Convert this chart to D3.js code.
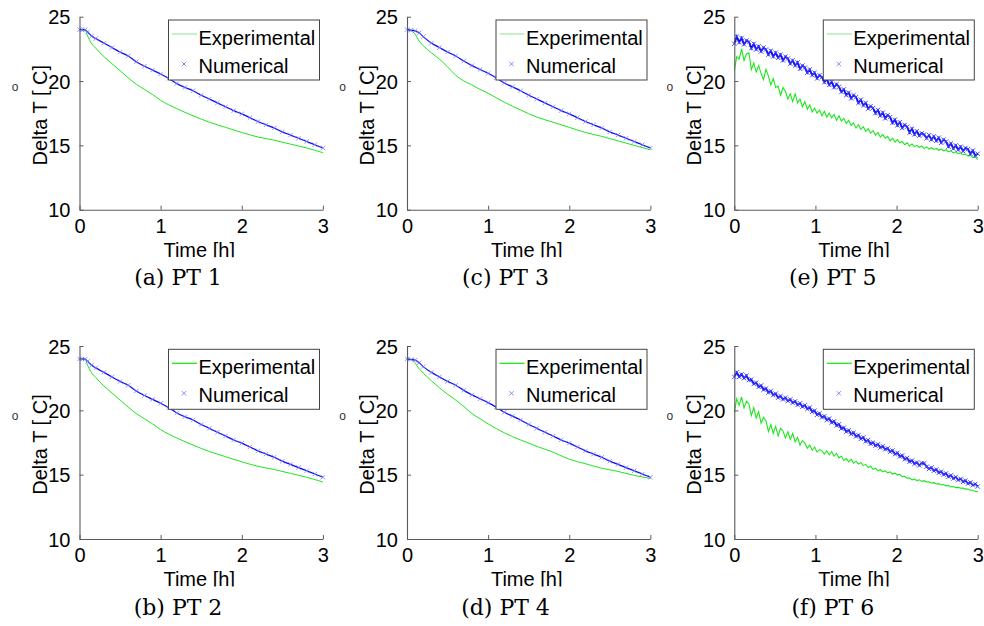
<!DOCTYPE html>
<html>
<head>
<meta charset="utf-8">
<script src="https://cdn.jsdelivr.net/npm/d3@7/dist/d3.min.js"></script>
<style>
  html, body { margin: 0; padding: 0; background: #fff; }
  svg { display: block; }
</style>
</head>
<body>
<svg id="chart" width="984" height="626"></svg>
<script>
// ---- Axis ticks and labels ----
const xTicks = [0, 1, 2, 3];
const yTicks = [10, 15, 20, 25];
const xLabel = "Time [h]";
const yLabel = "Delta T [ C]";
const degreeMark = "o";
const legendLabels = ["Experimental", "Numerical"];
const captions = ["(a) PT 1", "(b) PT 2", "(c) PT 3", "(d) PT 4", "(e) PT 5", "(f) PT 6"];

// ---- PT 1 ----
const tExp1 = [0, 0.07, 0.1, 0.14, 0.2, 0.3, 0.4, 0.5, 0.6, 0.7, 0.8, 0.9, 1.0, 1.2, 1.4, 1.6, 1.8, 2.0, 2.2, 2.4, 2.6, 2.8, 3.0];
const exp1  = [24.0, 23.95, 23.5, 23.0, 22.55, 21.9, 21.35, 20.8, 20.25, 19.75, 19.35, 18.95, 18.5, 17.85, 17.3, 16.8, 16.4, 16.0, 15.65, 15.4, 15.1, 14.8, 14.43];
const tNum1 = [0, 0.03, 0.07, 0.1, 0.15, 0.2, 0.3, 0.4, 0.5, 0.6, 0.7, 0.8, 0.9, 1.0, 1.1, 1.2, 1.3, 1.4, 1.5, 1.6, 1.7, 1.8, 1.9, 2.0, 2.1, 2.2, 2.3, 2.4, 2.5, 2.6, 2.7, 2.8, 2.9, 3.0];
const num1  = [24.0, 24.0, 23.98, 23.8, 23.5, 23.3, 22.95, 22.6, 22.25, 21.95, 21.5, 21.15, 20.85, 20.55, 20.2, 19.8, 19.5, 19.25, 18.9, 18.6, 18.3, 18.0, 17.7, 17.45, 17.15, 16.85, 16.6, 16.35, 16.05, 15.8, 15.55, 15.3, 15.05, 14.8];

// ---- PT 2 ----
const tExp2 = [0, 0.07, 0.1, 0.14, 0.2, 0.3, 0.4, 0.5, 0.6, 0.7, 0.8, 0.9, 1.0, 1.2, 1.4, 1.6, 1.8, 2.0, 2.2, 2.4, 2.6, 2.8, 3.0];
const exp2  = [24.0, 23.95, 23.5, 23.0, 22.55, 21.9, 21.35, 20.8, 20.25, 19.75, 19.35, 18.95, 18.5, 17.85, 17.3, 16.8, 16.4, 16.0, 15.65, 15.4, 15.1, 14.8, 14.43];
const tNum2 = [0, 0.03, 0.07, 0.1, 0.15, 0.2, 0.3, 0.4, 0.5, 0.6, 0.7, 0.8, 0.9, 1.0, 1.1, 1.2, 1.3, 1.4, 1.5, 1.6, 1.7, 1.8, 1.9, 2.0, 2.1, 2.2, 2.3, 2.4, 2.5, 2.6, 2.7, 2.8, 2.9, 3.0];
const num2  = [24.0, 24.0, 23.98, 23.8, 23.5, 23.3, 22.95, 22.6, 22.25, 21.95, 21.5, 21.15, 20.85, 20.55, 20.2, 19.8, 19.5, 19.25, 18.9, 18.6, 18.3, 18.0, 17.7, 17.45, 17.15, 16.85, 16.6, 16.35, 16.05, 15.8, 15.55, 15.3, 15.05, 14.8];

// ---- PT 3 ----
const tExp3 = [0, 0.05, 0.1, 0.15, 0.2, 0.3, 0.4, 0.5, 0.6, 0.7, 0.8, 0.9, 1.0, 1.2, 1.4, 1.6, 1.8, 2.0, 2.2, 2.4, 2.6, 2.8, 3.0];
const exp3  = [23.94, 23.9, 23.65, 23.1, 22.75, 22.2, 21.7, 21.1, 20.45, 20.0, 19.7, 19.35, 19.05, 18.35, 17.75, 17.2, 16.8, 16.4, 16.0, 15.7, 15.35, 15.0, 14.66];
const tNum3 = [0, 0.05, 0.1, 0.15, 0.2, 0.3, 0.4, 0.5, 0.6, 0.7, 0.8, 0.9, 1.0, 1.1, 1.2, 1.3, 1.4, 1.5, 1.6, 1.7, 1.8, 1.9, 2.0, 2.1, 2.2, 2.3, 2.4, 2.5, 2.6, 2.7, 2.8, 2.9, 3.0];
const num3  = [24.0, 23.95, 23.9, 23.75, 23.45, 22.95, 22.6, 22.25, 21.95, 21.55, 21.2, 20.9, 20.6, 20.25, 19.85, 19.55, 19.25, 18.9, 18.6, 18.3, 18.0, 17.7, 17.45, 17.15, 16.85, 16.6, 16.35, 16.05, 15.8, 15.55, 15.3, 15.05, 14.8];

// ---- PT 4 ----
const tExp4 = [0, 0.07, 0.14, 0.2, 0.3, 0.4, 0.5, 0.6, 0.7, 0.8, 0.9, 1.0, 1.2, 1.4, 1.6, 1.8, 2.0, 2.2, 2.4, 2.6, 2.8, 3.0];
const exp4  = [24.0, 23.9, 23.3, 22.9, 22.3, 21.75, 21.25, 20.8, 20.3, 19.75, 19.35, 18.95, 18.25, 17.7, 17.2, 16.75, 16.2, 15.85, 15.5, 15.25, 14.95, 14.7];
const tNum4 = [0, 0.05, 0.1, 0.15, 0.2, 0.3, 0.4, 0.5, 0.6, 0.7, 0.8, 0.9, 1.0, 1.1, 1.2, 1.3, 1.4, 1.5, 1.6, 1.7, 1.8, 1.9, 2.0, 2.1, 2.2, 2.3, 2.4, 2.5, 2.6, 2.7, 2.8, 2.9, 3.0];
const num4  = [24.0, 23.95, 23.9, 23.7, 23.4, 22.95, 22.6, 22.25, 21.95, 21.55, 21.2, 20.9, 20.6, 20.25, 19.85, 19.55, 19.25, 18.9, 18.6, 18.3, 18.0, 17.7, 17.45, 17.15, 16.85, 16.6, 16.35, 16.05, 15.8, 15.55, 15.3, 15.05, 14.8];

// ---- PT 5 and PT 6: logged every 0.03 h ----
const tNoisy = [0, 0.03, 0.06, 0.09, 0.12, 0.15, 0.18, 0.21, 0.24, 0.27, 0.3, 0.33, 0.36, 0.39, 0.42, 0.45, 0.48, 0.51, 0.54, 0.57,
  0.6, 0.63, 0.66, 0.69, 0.72, 0.75, 0.78, 0.81, 0.84, 0.87, 0.9, 0.93, 0.96, 0.99, 1.02, 1.05, 1.08, 1.11, 1.14, 1.17,
  1.2, 1.23, 1.26, 1.29, 1.32, 1.35, 1.38, 1.41, 1.44, 1.47, 1.5, 1.53, 1.56, 1.59, 1.62, 1.65, 1.68, 1.71, 1.74, 1.77,
  1.8, 1.83, 1.86, 1.89, 1.92, 1.95, 1.98, 2.01, 2.04, 2.07, 2.1, 2.13, 2.16, 2.19, 2.22, 2.25, 2.28, 2.31, 2.34, 2.37,
  2.4, 2.43, 2.46, 2.49, 2.52, 2.55, 2.58, 2.61, 2.64, 2.67, 2.7, 2.73, 2.76, 2.79, 2.82, 2.85, 2.88, 2.91, 2.94, 2.97, 3.0];

const exp5 = [20.8, 21.9, 21.7, 22.5, 21.6, 22.1, 22.2, 20.9, 21.4, 20.7, 21.2, 20.6, 20.1, 20.9, 20.4, 19.7, 20.2, 19.5, 19.6, 18.9,
  19.5, 19.2, 18.6, 19.0, 18.4, 19.0, 18.3, 18.6, 18.0, 18.4, 17.8, 18.15, 17.6, 17.9, 17.5, 17.75, 17.3, 17.65, 17.2, 17.5,
  17.15, 17.4, 16.95, 17.3, 16.9, 17.1, 16.7, 16.95, 16.55, 16.75, 16.35, 16.6, 16.25, 16.45, 16.1, 16.3, 15.95, 16.15, 15.8, 16.0,
  15.65, 15.85, 15.55, 15.7, 15.35, 15.55, 15.25, 15.45, 15.2, 15.3, 15.05, 15.2, 14.95, 15.1, 14.9, 15.0, 14.85, 14.95, 14.75, 14.88,
  14.72, 14.82, 14.68, 14.76, 14.62, 14.7, 14.58, 14.66, 14.5, 14.58, 14.42, 14.5, 14.36, 14.42, 14.28, 14.33, 14.17, 14.22, 14.05, 14.1, 13.9];
const num5 = [22.9, 23.45, 23.0, 23.35, 22.85, 23.15, 23.05, 22.55, 22.9, 22.45, 22.7, 22.3, 22.6, 22.45, 22.05, 22.35, 21.9, 22.2, 21.8, 22.05,
  21.6, 21.9, 21.75, 21.35, 21.6, 21.2, 21.45, 20.95, 21.2, 21.05, 20.65, 20.9, 20.45, 20.65, 20.2, 20.45, 20.3, 19.9, 20.15, 19.7,
  19.95, 19.5, 19.75, 19.55, 19.15, 19.35, 18.9, 19.1, 18.65, 18.9, 18.75, 18.3, 18.55, 18.1, 18.3, 17.85, 18.05, 17.9, 17.5, 17.75,
  17.3, 17.55, 17.1, 17.35, 17.2, 16.75, 17.0, 16.55, 16.8, 16.35, 16.6, 16.45, 16.0, 16.3, 15.85, 16.1, 15.75, 15.95, 15.85, 15.55,
  15.8, 15.45, 15.7, 15.35, 15.6, 15.2, 15.45, 15.3, 14.9, 15.15, 14.75, 15.0, 14.65, 14.9, 14.55, 14.8, 14.7, 14.35, 14.6, 14.2, 14.35];

const exp6 = [19.8, 20.9, 20.4, 21.05, 20.2, 20.7, 20.5, 19.6, 20.2, 19.4, 19.9, 19.0, 19.45, 19.2, 18.35, 18.9, 18.2, 18.75, 18.0, 18.6,
  18.4, 17.85, 18.35, 17.75, 18.2, 17.55, 17.9, 17.3, 17.65, 17.45, 17.05, 17.3, 16.9, 17.15, 16.75, 16.95, 16.85, 16.6, 16.85, 16.55,
  16.8, 16.45, 16.65, 16.3, 16.45, 16.1, 16.25, 16.0, 16.2, 15.9, 16.05, 15.82, 15.95, 15.7, 15.8, 15.55, 15.65, 15.42, 15.5, 15.3,
  15.4, 15.22, 15.3, 15.14, 15.22, 15.05, 15.12, 14.97, 15.03, 14.85, 14.88, 14.72, 14.75, 14.6, 14.66, 14.54, 14.6, 14.48, 14.53, 14.42,
  14.45, 14.35, 14.38, 14.28, 14.3, 14.2, 14.23, 14.13, 14.15, 14.05, 14.08, 13.99, 14.01, 13.94, 13.95, 13.88, 13.88, 13.79, 13.79, 13.7, 13.68];
const num6 = [22.6, 22.95, 22.6, 22.8, 22.5, 22.7, 22.35, 22.4, 22.05, 22.15, 21.82, 21.93, 21.6, 21.7, 21.38, 21.5, 21.18, 21.3, 20.98, 21.12,
  20.85, 20.98, 20.72, 20.85, 20.58, 20.7, 20.42, 20.55, 20.28, 20.4, 20.1, 20.22, 19.88, 19.98, 19.65, 19.76, 19.45, 19.55, 19.24, 19.36,
  19.05, 19.15, 18.82, 18.92, 18.57, 18.66, 18.34, 18.45, 18.15, 18.27, 17.97, 18.08, 17.78, 17.9, 17.58, 17.7, 17.39, 17.5, 17.25, 17.36,
  17.1, 17.22, 16.96, 17.05, 16.77, 16.88, 16.59, 16.7, 16.4, 16.5, 16.2, 16.3, 16.0, 16.1, 15.84, 15.95, 15.72, 15.9, 15.88, 15.62,
  15.45, 15.55, 15.3, 15.4, 15.14, 15.24, 15.0, 15.1, 14.84, 14.95, 14.7, 14.82, 14.58, 14.68, 14.44, 14.54, 14.3, 14.4, 14.18, 14.28, 14.08];

// ---- Panel grid, column-major as laid out on the page ----
const panels = [
  { cap: captions[0], col: 0, row: 0, tE: tExp1, e: exp1, tN: tNum1, n: num1, noisy: false },
  { cap: captions[1], col: 0, row: 1, tE: tExp2, e: exp2, tN: tNum2, n: num2, noisy: false },
  { cap: captions[2], col: 1, row: 0, tE: tExp3, e: exp3, tN: tNum3, n: num3, noisy: false },
  { cap: captions[3], col: 1, row: 1, tE: tExp4, e: exp4, tN: tNum4, n: num4, noisy: false },
  { cap: captions[4], col: 2, row: 0, tE: tNoisy, e: exp5, tN: tNoisy, n: num5, noisy: true },
  { cap: captions[5], col: 2, row: 1, tE: tNoisy, e: exp6, tN: tNoisy, n: num6, noisy: true }
];

const colLeft = [79.5, 407, 734.3];
const rowTop = [16.7, 346];
const pw = 243.4, ph = 193;

const GREEN = "#1ee61e";
const BLUE = "#0a0af5";
const BLUE_MARK = "#7a7aff";
const FONT = "'Liberation Sans', Arial, sans-serif";

const svg = d3.select("#chart");
const defs = svg.append("defs");

const x = d3.scaleLinear().domain([0, 3]).range([0, pw]);
const y = d3.scaleLinear().domain([10, 25]).range([ph, 0]);

const xMark = d3.symbol().type(d3.symbolTimes).size(14);

panels.forEach((p, i) => {
  const g = svg.append("g").attr("transform", `translate(${colLeft[p.col]},${rowTop[p.row]})`);
  const curve = p.noisy ? d3.curveLinear : d3.curveMonotoneX;
  const line = d3.line().x(d => x(d[0])).y(d => y(d[1])).curve(curve);

  // the x-label is cut along its baseline
  const clipId = "lbl-clip-" + i;
  defs.append("clipPath").attr("id", clipId)
    .append("rect").attr("x", -80).attr("y", ph + 20).attr("width", pw + 100).attr("height", 27.5);

  // experimental curve
  const expPts = p.tE.map((t, k) => [t, p.e[k]]);
  g.append("path")
    .attr("d", line(expPts))
    .attr("fill", "none")
    .attr("stroke", GREEN)
    .attr("stroke-width", p.noisy ? 1.1 : 1);

  // numerical result: crosses over a thin trace
  const numPts = p.tN.map((t, k) => [t, p.n[k]]);
  g.append("path")
    .attr("d", line(numPts))
    .attr("fill", "none")
    .attr("stroke", BLUE)
    .attr("stroke-width", p.noisy ? 1.8 : 1.2);
  g.append("g").selectAll("path")
    .data(numPts)
    .join("path")
    .attr("transform", d => `translate(${x(d[0])},${y(d[1])})`)
    .attr("d", xMark)
    .attr("fill", "none")
    .attr("stroke", p.noisy ? "#3c3cf8" : BLUE_MARK)
    .attr("stroke-width", p.noisy ? 0.9 : 0.8);

  // axes (box off, ticks pointing inward)
  const ax = g.append("g").attr("transform", `translate(0,${ph})`)
    .call(d3.axisBottom(x).tickValues(xTicks).tickFormat(d3.format("d")).tickSize(-4).tickSizeOuter(0).tickPadding(9));
  const ay = g.append("g")
    .call(d3.axisLeft(y).tickValues(yTicks).tickFormat(d3.format("d")).tickSize(-4).tickSizeOuter(0).tickPadding(9));
  [ax, ay].forEach(a => {
    a.select(".domain").attr("stroke", "#5a5a5a").attr("stroke-width", 1.1);
    a.selectAll(".tick line").attr("stroke", "#5a5a5a");
    a.selectAll(".tick text").attr("fill", "#000").style("font-family", FONT).style("font-size", "20px");
  });
  ay.selectAll(".tick text").attr("dy", "0.36em");

  // axis labels
  g.append("text")
    .attr("clip-path", `url(#${clipId})`)
    .attr("x", pw / 2 - 2).attr("y", ph + 47)
    .attr("text-anchor", "middle")
    .style("font-family", FONT).style("font-size", "20px")
    .text(xLabel);
  g.append("text")
    .attr("transform", `translate(-33,${ph / 2 + 2}) rotate(-90)`)
    .attr("text-anchor", "middle")
    .style("font-family", FONT).style("font-size", "20px")
    .text(yLabel);
  g.append("text")
    .attr("x", -64.5).attr("y", 74)
    .attr("text-anchor", "middle")
    .attr("fill", "#333")
    .style("font-family", FONT).style("font-size", "12px")
    .text(degreeMark);

  // legend
  const lg = g.append("g").attr("transform", "translate(89,3.3)");
  lg.append("rect").attr("width", 151).attr("height", 60)
    .attr("fill", "#fff").attr("stroke", "#444").attr("stroke-width", 1);
  lg.append("line").attr("x1", 3.5).attr("x2", 28.5).attr("y1", 14).attr("y2", 14)
    .attr("stroke", p.row === 0 ? "#7fe07f" : GREEN).attr("stroke-width", p.row === 0 ? 0.9 : 1.3);
  lg.append("path").attr("transform", "translate(15.5,44)").attr("d", xMark)
    .attr("fill", "none").attr("stroke", BLUE_MARK).attr("stroke-width", 0.9);
  lg.selectAll("text.lbl").data(legendLabels).join("text")
    .attr("class", "lbl")
    .attr("x", 30).attr("y", (d, k) => 25 + k * 28)
    .style("font-family", FONT).style("font-size", "20px")
    .text(d => d);

  // caption
  g.append("text")
    .attr("x", 98.5).attr("y", 268.5)
    .attr("text-anchor", "middle")
    .style("font-family", "'DejaVu Serif', serif").style("font-size", "22px")
    .text(p.cap);
});
</script>
</body>
</html>
